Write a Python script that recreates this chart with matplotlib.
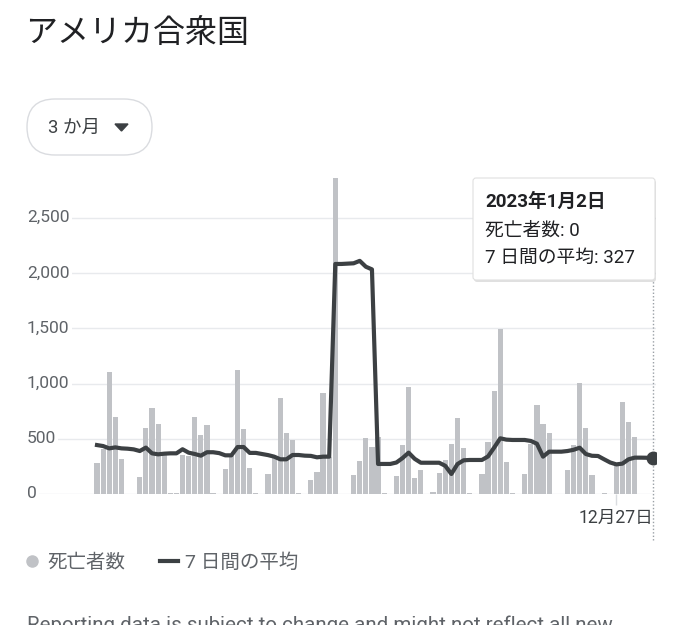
import matplotlib
matplotlib.use("Agg")
import matplotlib.pyplot as plt
from matplotlib.patches import FancyBboxPatch, Polygon
from matplotlib.lines import Line2D
from matplotlib.transforms import blended_transform_factory
import numpy as np

plt.rcParams['font.family'] = ['Roboto', 'Noto Sans CJK JP', 'DejaVu Sans']

# daily deaths, 2022-10-03 .. 2023-01-02
deaths = [280, 410, 1104, 697, 317, 0, 0,
          155, 597, 778, 633, 350, 10, 5,
          350, 340, 700, 535, 625, 5, 0,
          230, 340, 1120, 590, 235, 5, 0,
          180, 330, 870, 550, 485, 10, 0,
          127, 200, 914, 335, 12650, 0, 0,
          170, 300, 505, 427, 517, 5, 0,
          165, 443, 970, 145, 217, 0, 15,
          190, 310, 455, 690, 415, 5, 0,
          180, 470, 930, 1495, 290, 5, 0,
          180, 450, 805, 635, 550, 0, 0,
          215, 445, 1005, 600, 170, 0, 5,
          0, 260, 833, 650, 518, 0, 0,
          0]
# 7-day average
avg7 = [443, 434, 413, 422, 413, 410, 404,
        389, 420, 368, 359, 365, 368, 368,
        405, 374, 362, 347, 378, 378, 370,
        350, 350, 425, 425, 372, 372, 362,
        352, 338, 314, 314, 353, 353, 347,
        345, 332, 338, 338, 2082, 2082, 2085,
        2088, 2110, 2057, 2033, 272, 272, 272,
        285, 325, 374, 318, 283, 283, 283,
        283, 255, 181, 271, 305, 308, 308,
        308, 340, 420, 504, 492, 489, 489,
        489, 480, 455, 338, 383, 383, 383,
        389, 400, 419, 362, 346, 344, 314,
        285, 268, 275, 314, 329, 329, 328,
        327]
yticks = [0, 500, 1000, 1500, 2000, 2500]
xtick_pos = [85]
xtick_labels = ['12月27日']

days = np.arange(len(deaths))
bar_color = '#c0c2c6'
line_color = '#3c4043'
grey_text = '#5f6368'

fig = plt.figure(figsize=(6.8, 6.25), dpi=100)
ax = fig.add_axes([27/680, 131/625, 629/680, 316/625])
ax.set_xlim((27 - 97) / 6.11, (656 - 97) / 6.11)
ax.set_ylim(0, 2860)

ax.bar(days, deaths, width=0.85, color=bar_color, zorder=2)
ax.plot(days, avg7, color=line_color, lw=3, solid_joinstyle='round', zorder=3)
ax.plot(days[-1], avg7[-1], 'o', color=line_color, ms=9, zorder=4)

ax.set_yticks(yticks)
ax.yaxis.grid(True, color='#e8eaed', lw=1)
ax.set_axisbelow(True)
ax.tick_params(axis='y', left=False, labelleft=False)
for s in ax.spines.values():
    s.set_visible(False)

trans = blended_transform_factory(ax.transAxes, ax.transData)
for v in yticks:
    ax.text(0, v, f'{v:,}', transform=trans, ha='left', va='center',
            fontsize=12.5, color=grey_text, zorder=3,
            bbox=dict(facecolor='white', edgecolor='none', pad=1.5))

ax.set_xticks(xtick_pos)
ax.set_xticklabels(xtick_labels)
ax.tick_params(axis='x', length=8, width=1, color='#dadce0', pad=3,
               labelsize=12.7, labelcolor=line_color)

ax.axvline(days[-1], ymin=-46/316, ymax=214/316, color='#9aa0a6', lw=1,
           ls=(0, (1, 1.5)), clip_on=False, zorder=1)

# overlay in pixel coords for the page furniture
ov = fig.add_axes([0, 0, 1, 1], zorder=5)
ov.set_xlim(0, 680)
ov.set_ylim(625, 0)
ov.axis('off')

ov.text(25, 33, 'アメリカ合衆国', fontsize=23, color='#202124', va='center', ha='left')

ov.add_patch(FancyBboxPatch((27, 99), 125, 56, boxstyle='round,pad=0,rounding_size=28',
                            facecolor='white', edgecolor='#dadce0', lw=1))
ov.text(48, 128, '3 か月', fontsize=13.3, color=line_color, va='center', ha='left')
ov.add_patch(Polygon([(115, 124), (128, 124), (121.5, 131)], closed=True, color=line_color))

# tooltip
ov.add_patch(FancyBboxPatch((474, 180), 182, 102, boxstyle='round,pad=0,rounding_size=3',
                            facecolor='#000000', edgecolor='none', alpha=0.12))
ov.add_patch(FancyBboxPatch((473, 178), 182, 102, boxstyle='round,pad=0,rounding_size=3',
                            facecolor='white', edgecolor='#e0e0e0', lw=0.8))
ov.text(485, 202, '2023年1月2日', fontsize=13.5, fontweight='bold', color='#202124', va='center')
ov.text(485, 231, '死亡者数: 0', fontsize=13.5, color='#202124', va='center')
ov.text(485, 258, '7 日間の平均: 327', fontsize=13.5, color='#202124', va='center')

# legend
handles = [Line2D([], [], marker='o', ls='none', color=bar_color, markersize=8),
           Line2D([], [], color=line_color, lw=3)]
fig.legend(handles, ['死亡者数', '7 日間の平均'], loc='center left',
           bbox_to_anchor=(23/680, 1 - 563/625), ncol=2, frameon=False,
           fontsize=14, labelcolor=grey_text, handlelength=0.9, handletextpad=0.35,
           columnspacing=1.8, borderpad=0, borderaxespad=0)

# footnote, cut by the bottom edge like the screenshot
ov.text(27, 615, 'Reporting data is subject to change and might not reflect all new',
        fontsize=14.8, color=grey_text, va='top', ha='left')

fig.savefig('out.png', dpi=100)
